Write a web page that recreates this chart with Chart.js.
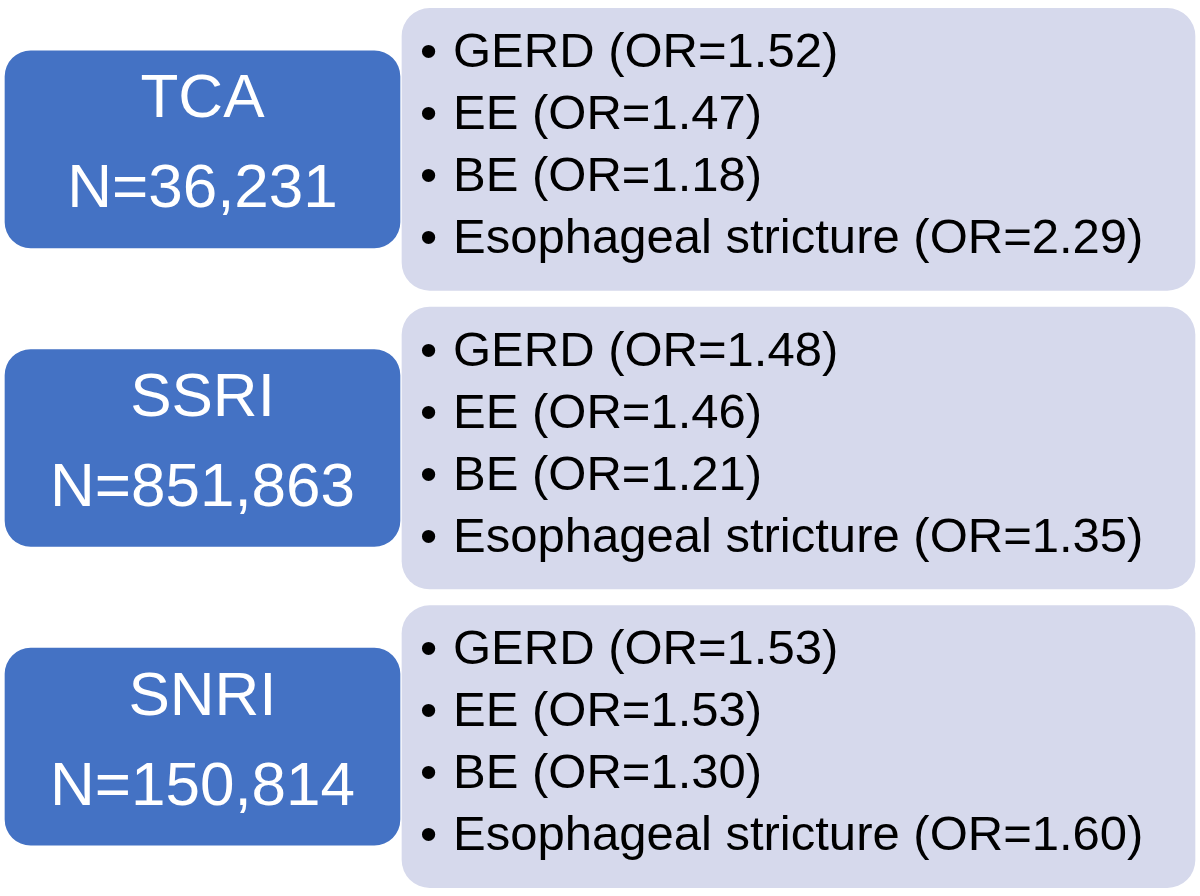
<!DOCTYPE html>
<html><head><meta charset="utf-8">
<script src="https://cdn.jsdelivr.net/npm/chart.js@4"></script>
<style>html,body{margin:0;padding:0;background:#fff}#w{width:1200px;height:896px}</style>
</head><body><div id="w"><canvas id="c"></canvas></div>
<script>
const drugs = ["TCA","SSRI","SNRI"];
const counts = ["N=36,231","N=851,863","N=150,814"];
const outcomes = ["GERD","EE","BE","Esophageal stricture"];
const orTCA = ["1.52","1.47","1.18","2.29"];
const orSSRI = ["1.48","1.46","1.21","1.35"];
const orSNRI = ["1.53","1.53","1.30","1.60"];
const orAll = [orTCA, orSSRI, orSNRI];
const panelSpan = [402, 1195];
const drugSpan = [5, 400];

const textPlugin = {
  id: 'txt',
  afterDatasetsDraw(chart) {
    const ctx = chart.ctx, x = chart.scales.x, y = chart.scales.y;
    ctx.save();
    drugs.forEach((d, i) => {
      const cy = y.getPixelForValue(i) - 3;
      const cx = (x.getPixelForValue(drugSpan[0]) + x.getPixelForValue(drugSpan[1])) / 2;
      ctx.fillStyle = '#fff';
      ctx.font = '62px "Liberation Sans", Arial, sans-serif';
      ctx.textAlign = 'center'; ctx.textBaseline = 'middle';
      ctx.fillText(d, cx, cy - 46);
      ctx.fillText(counts[i], cx, cy + 44);
      ctx.fillStyle = '#000';
      ctx.font = '49px "Liberation Sans", Arial, sans-serif';
      ctx.textAlign = 'left';
      const x0 = x.getPixelForValue(panelSpan[0]);
      outcomes.forEach((o, k) => {
        const ly = cy + (k - 1.5) * 62;
        ctx.fillText('•', x0 + 18, ly);
        ctx.fillText(o + ' (OR=' + orAll[i][k] + ')', x0 + 51, ly);
      });
    });
    ctx.restore();
  }
};

new Chart(document.getElementById('c'), {
  type: 'bar',
  data: {
    labels: drugs,
    datasets: [
      { data: drugs.map(() => drugSpan), backgroundColor: '#4472c4', barThickness: 197, borderRadius: 26, borderSkipped: false, order: 0 },
      { data: drugs.map(() => panelSpan), backgroundColor: '#d6d9ec', barThickness: 282, borderRadius: 28, borderSkipped: false, order: 1 }
    ]
  },
  options: {
    indexAxis: 'y', responsive: true, maintainAspectRatio: false, animation: false,
    layout: { padding: 0 },
    datasets: { bar: { grouped: false } },
    plugins: { legend: { display: false }, tooltip: { enabled: false } },
    scales: {
      x: { type: 'linear', min: 0, max: 1200, display: false },
      y: { display: false, offset: true }
    }
  },
  plugins: [textPlugin]
});
</script></body></html>
